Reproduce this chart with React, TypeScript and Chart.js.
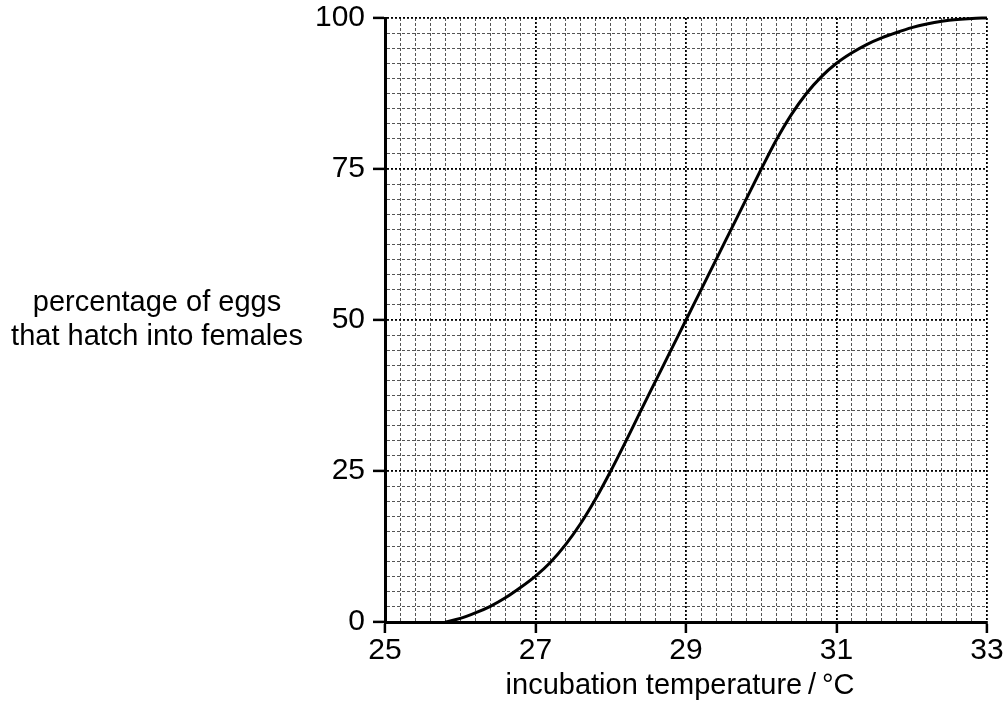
import React, { useEffect, useRef } from "react";
import { Chart, registerables } from "chart.js";

Chart.register(...registerables);

const temperatures = [25.8, 26.0, 26.2, 26.4, 26.6, 26.8, 27.0, 27.2, 27.4, 27.6, 27.8, 28.0, 28.2, 28.4, 28.6, 28.8, 29.0, 29.2, 29.4, 29.6, 29.8, 30.0, 30.2, 30.4, 30.6, 30.8, 31.0, 31.2, 31.4, 31.6, 31.8, 32.0, 32.2, 32.4, 32.6, 32.8, 33.0];
const femalePct = [0, 0.6, 1.5, 2.6, 4.0, 5.7, 7.6, 9.9, 12.8, 16.3, 20.4, 25, 29.9, 35, 40, 45, 50, 55, 60, 65, 70, 75, 79.8, 84.0, 87.5, 90.3, 92.5, 94.2, 95.6, 96.7, 97.6, 98.4, 99.0, 99.45, 99.75, 99.93, 100];
const xLabels = [25, 27, 29, 31, 33];
const yLabels = [0, 25, 50, 75, 100];
const xTitle = "incubation temperature\u2009/\u2009°C";
const yTitle = ["percentage of eggs", "that hatch into females"];

const FONT = "'Liberation Sans', Arial, Helvetica, sans-serif";

const isXMajor = (v: number) => xLabels.some((l) => Math.abs(l - v) < 1e-6);
const isYMajor = (v: number) => yLabels.some((l) => Math.abs(l - v) < 1e-6);

export default function App() {
  const ref = useRef<HTMLCanvasElement | null>(null);
  useEffect(() => {
    if (!ref.current) return;
    const titlePlugin = {
      id: "customTitles",
      afterDraw(chart: any) {
        const ctx = chart.ctx;
        ctx.save();
        ctx.fillStyle = "#000";
        ctx.font = `29px ${FONT}`;
        ctx.textAlign = "center";
        ctx.textBaseline = "middle";
        ctx.fillText(xTitle, 680, 686);
        ctx.fillText(yTitle[0], 157, 303);
        ctx.fillText(yTitle[1], 157, 337);
        ctx.restore();
      },
    };
    const chart = new Chart(ref.current, {
      type: "line",
      data: {
        datasets: [
          {
            data: temperatures.map((t, i) => ({ x: t, y: femalePct[i] })),
            borderColor: "#000",
            borderWidth: 3,
            pointRadius: 0,
            fill: false,
            cubicInterpolationMode: "monotone",
            clip: false,
          } as any,
        ],
      },
      options: {
        animation: false,
        responsive: false,
        devicePixelRatio: 1,
        layout: { padding: { left: 0, top: 18, right: 21, bottom: 0 } },
        plugins: { legend: { display: false }, tooltip: { enabled: false } },
        scales: {
          x: {
            type: "linear",
            min: 25,
            max: 33,
            afterFit: (s: any) => {
              s.height = 89;
              s.paddingLeft = 0;
              s.paddingRight = 0;
            },
            ticks: {
              stepSize: 0.2,
              autoSkip: false,
              maxRotation: 0,
              minRotation: 0,
              padding: 0,
              color: "#000",
              font: { family: FONT, size: 30 },
              callback: (v: any) => {
                const n = Number(v);
                return isXMajor(n) ? String(Math.round(n)) : "";
              },
            },
            grid: {
              color: (c: any) => (isXMajor(c.tick?.value) ? "#000" : "#555"),
              lineWidth: (c: any) => (isXMajor(c.tick?.value) ? 1.8 : 1),
              tickLength: 11,
              tickWidth: 2.5,
              tickColor: (c: any) => (isXMajor(c.tick?.value) ? "#000" : "rgba(0,0,0,0)"),
            },
            border: {
              display: true,
              color: "#000",
              width: 3,
              dash: (c: any) => (isXMajor(c.tick?.value) ? [2, 2] : [3, 2]),
            },
          },
          y: {
            type: "linear",
            min: 0,
            max: 100,
            afterFit: (s: any) => {
              s.width = 385;
              s.paddingTop = 0;
              s.paddingBottom = 0;
            },
            ticks: {
              stepSize: 2.5,
              autoSkip: false,
              padding: 8,
              color: "#000",
              font: { family: FONT, size: 30 },
              callback: (v: any) => {
                const n = Number(v);
                return isYMajor(n) ? String(Math.round(n)) : "";
              },
            },
            grid: {
              color: (c: any) => (isYMajor(c.tick?.value) ? "#000" : "#555"),
              lineWidth: (c: any) => (isYMajor(c.tick?.value) ? 1.8 : 1),
              tickLength: 12,
              tickWidth: 2.5,
              tickColor: (c: any) => (isYMajor(c.tick?.value) ? "#000" : "rgba(0,0,0,0)"),
            },
            border: {
              display: true,
              color: "#000",
              width: 3,
              dash: (c: any) => (isYMajor(c.tick?.value) ? [2, 2] : [3, 2]),
            },
          },
        },
      },
      plugins: [titlePlugin],
    });
    return () => chart.destroy();
  }, []);
  return (
    <div style={{ position: "fixed", left: 0, top: 0, width: 1008, height: 711, background: "#fff" }}>
      <canvas ref={ref} width={1008} height={711} style={{ display: "block" }} />
    </div>
  );
}
